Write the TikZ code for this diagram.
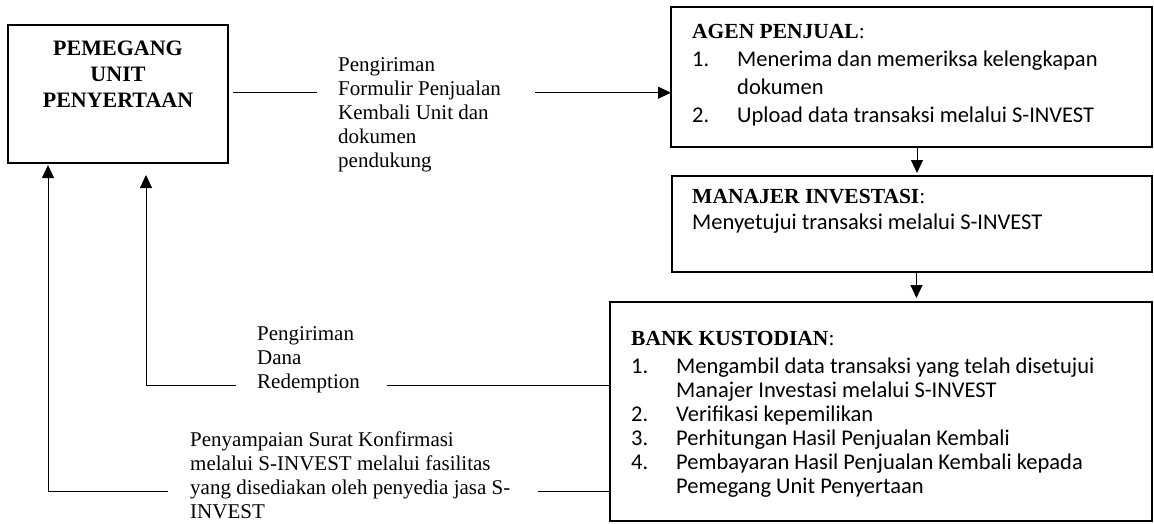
\documentclass[tikz,border=0pt]{standalone}
\usepackage{fontspec}
\setmainfont{Liberation Serif}
\newfontfamily\calibri{Carlito}
\usetikzlibrary{arrows.meta}
\newcommand{\nomor}[1]{\makebox[45pt][l]{#1}}

\begin{document}
\begin{tikzpicture}[x=1pt,y=-1pt,
  kotak/.style={draw,line width=2pt,inner sep=0pt,outer sep=0pt,anchor=north west},
  teks/.style={anchor=base west,inner sep=0pt,font=\fontsize{21}{24}\selectfont},
  judul/.style={anchor=base west,inner sep=0pt,font=\fontsize{21.5}{26}\selectfont},
  isi/.style={anchor=base west,inner sep=0pt,font=\calibri\fontsize{22.5}{27}\selectfont},
  garis/.style={line width=1pt},
  panah/.style={line width=1pt,-{Triangle[length=13pt,width=12pt]}}]
\useasboundingbox (0,0) rectangle (1154,523);

% kotak
\node[kotak,minimum width=220,minimum height=138] (pemegang) at (8,25) {};
\node[kotak,minimum width=481,minimum height=140] (agen) at (671,7) {};
\node[kotak,minimum width=480,minimum height=96] (manajer) at (672,176) {};
\node[kotak,minimum width=542,minimum height=219] (bank) at (610,302) {};

% pemegang unit penyertaan
\node[inner sep=0pt,anchor=base,font=\fontsize{22}{26}\selectfont\bfseries] (pemegang1) at (118,55) {PEMEGANG};
\node[inner sep=0pt,anchor=base,font=\fontsize{22}{26}\selectfont\bfseries] (pemegang2) at (118,81) {UNIT};
\node[inner sep=0pt,anchor=base,font=\fontsize{22}{26}\selectfont\bfseries] (pemegang3) at (118,107) {PENYERTAAN};

% agen penjual
\node[judul] (agen0) at (692,38) {\textbf{AGEN PENJUAL}:};
\node[isi] (agen1) at (692,66) {\nomor{1.}Menerima dan memeriksa kelengkapan};
\node[isi] (agen2) at (692,94) {\nomor{}dokumen};
\node[isi] (agen3) at (692,122) {\nomor{2.}Upload data transaksi melalui S-INVEST};

% manajer investasi
\node[judul] (manajer0) at (692,203) {\textbf{MANAJER INVESTASI}:};
\node[isi] (manajer1) at (692,229) {Menyetujui transaksi melalui S-INVEST};

% bank kustodian
\node[judul] (bank0) at (631,345) {\textbf{BANK KUSTODIAN}:};
\node[isi] (bank1) at (631,373) {\nomor{1.}Mengambil data transaksi yang telah disetujui};
\node[isi] (bank2) at (631,397) {\nomor{}Manajer Investasi melalui S-INVEST};
\node[isi] (bank3) at (631,421) {\nomor{2.}Verifikasi kepemilikan};
\node[isi] (bank4) at (631,445) {\nomor{3.}Perhitungan Hasil Penjualan Kembali};
\node[isi] (bank5) at (631,469) {\nomor{4.}Pembayaran Hasil Penjualan Kembali kepada};
\node[isi] (bank6) at (631,493) {\nomor{}Pemegang Unit Penyertaan};

% keterangan panah
\node[teks] (kirim1) at (338,71) {Pengiriman};
\node[teks] (kirim2) at (338,95) {Formulir Penjualan};
\node[teks] (kirim3) at (338,119) {Kembali Unit dan};
\node[teks] (kirim4) at (338,143) {dokumen};
\node[teks] (kirim5) at (338,167) {pendukung};

\node[teks] (dana1) at (257,340) {Pengiriman};
\node[teks] (dana2) at (257,364) {Dana};
\node[teks] (dana3) at (257,388) {Redemption};

\node[teks] (sampai1) at (190,446) {Penyampaian Surat Konfirmasi};
\node[teks] (sampai2) at (190,470) {melalui S-INVEST melalui fasilitas};
\node[teks] (sampai3) at (190,494) {yang disediakan oleh penyedia jasa S-};
\node[teks] (sampai4) at (190,518) {INVEST};

% panah
\draw[garis] ([xshift=5pt]pemegang.east |- kirim2.mid west) -- ([xshift=-21pt]kirim2.mid west);
\draw[panah] ([xshift=34pt]kirim2.mid east) -- (agen.west |- kirim2.mid east);
\draw[panah,shorten >=3pt] ([xshift=5.5pt]agen.south) -- ([xshift=5.5pt]agen.south |- manajer.north);
\draw[panah,shorten >=4pt] ([xshift=4.5pt]manajer.south) -- ([xshift=4.5pt]manajer.south |- bank.north);
\draw[garis] (bank.west |- dana3.mid) -- ([xshift=27pt]dana3.mid east);
\draw[panah,shorten >=12pt] ([xshift=-21pt]dana3.mid west) -| ([xshift=28pt]pemegang.south);
\draw[garis] (bank.west |- sampai3.mid) -- ([xshift=27pt]sampai3.mid east);
\draw[panah,shorten >=2pt] ([xshift=-22pt]sampai3.mid west) -| ([xshift=-70pt]pemegang.south);
\end{tikzpicture}
\end{document}
